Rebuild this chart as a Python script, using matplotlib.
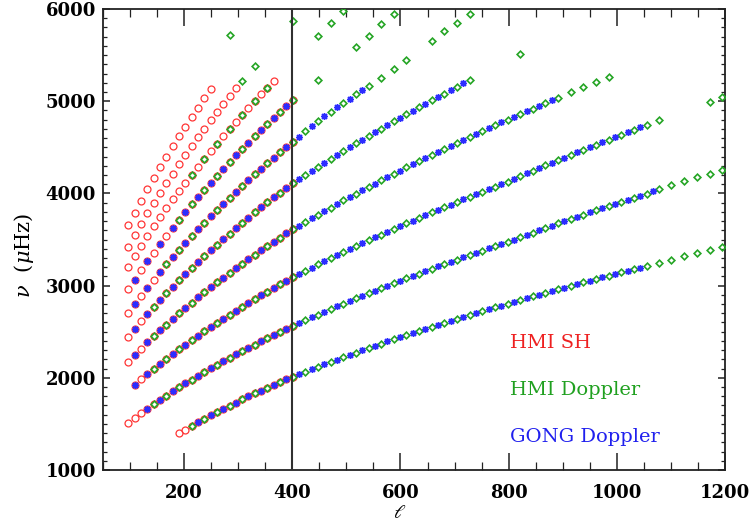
import matplotlib
matplotlib.use("Agg")
import matplotlib.pyplot as plt
from matplotlib.ticker import MultipleLocator

plt.rcParams['font.family'] = ['DejaVu Serif']
plt.rcParams['mathtext.fontset'] = 'dejavuserif'

# common degree grid (index k = 0..94)
ELL = [97, 109, 120, 132, 144, 155, 167, 179, 190, 202,
       214, 225, 237, 249, 261, 272, 284, 296, 307, 319,
       331, 342, 354, 366, 377, 389, 401, 412, 424, 436,
       447, 459, 471, 482, 494, 506, 517, 529, 541, 553,
       564, 576, 588, 599, 611, 623, 634, 646, 658, 669,
       681, 693, 704, 716, 728, 739, 751, 763, 774, 786,
       798, 809, 821, 833, 845, 856, 868, 880, 891, 903,
       915, 926, 938, 950, 961, 973, 985, 996, 1008, 1020,
       1031, 1043, 1055, 1066, 1078, 1090, 1101, 1113, 1125, 1137,
       1148, 1160, 1172, 1183, 1195]

# ridge frequencies (muHz), each list starts at FIRST_K of that ridge
nu_r1 = [1397, 1438, 1478, 1517, 1555, 1592, 1628, 1664, 1698, 1732,
         1765, 1798, 1830, 1862, 1893, 1923, 1953, 1983, 2012,
         2040, 2067, 2094, 2120, 2147, 2173, 2198, 2224, 2249, 2274,
         2298, 2322, 2346, 2370, 2394, 2417, 2440, 2463, 2486, 2508,
         2530, 2552, 2574, 2596, 2617, 2639, 2660, 2681, 2702, 2722,
         2743, 2763, 2783, 2803, 2823, 2843, 2863, 2882, 2902, 2921,
         2940, 2959, 2978, 2997, 3015, 3034, 3052, 3071, 3089, 3107,
         3125, 3143, 3161, 3178, 3196, 3213, 3231, 3248, 3265, 3282,
         3299, 3316, 3333, 3350, 3367, 3383, 3400, 3416]
nu_r2 = [1508, 1562, 1614, 1664, 1713, 1760, 1807, 1852, 1896, 1939,
         1981, 2022, 2062, 2102, 2141, 2179, 2217, 2254, 2290, 2326,
         2361, 2396, 2430, 2464, 2497, 2530, 2562,
         2593, 2624, 2655, 2685, 2715, 2745, 2774, 2804, 2832, 2861,
         2889, 2917, 2944, 2972, 2999, 3026, 3052, 3079, 3105, 3131,
         3157, 3182, 3208, 3233, 3258, 3283, 3307, 3332, 3356, 3380,
         3404, 3428, 3451, 3474, 3500, 3525, 3550, 3575, 3600, 3625,
         3649, 3674, 3698, 3722, 3746, 3769, 3793, 3816, 3840, 3863,
         3886, 3908, 3931, 3954, 3976, 3998, 4021, 4043, 4065, 4086,
         4108, 4130, 4151, 4173, 4194, 4215, 4236, 4257]
nu_r3 = [1860, 1922, 1982, 2040, 2097, 2152, 2205, 2258, 2309, 2359,
         2408, 2457, 2504, 2550, 2596, 2640, 2684, 2728, 2770, 2812,
         2854, 2894, 2935, 2974, 3013, 3052, 3090,
         3125, 3160, 3195, 3229, 3263, 3297, 3330, 3363, 3395, 3428,
         3460, 3491, 3523, 3554, 3584, 3615, 3645, 3675, 3705, 3735,
         3764, 3793, 3822, 3851, 3879, 3907, 3935, 3963, 3991, 4018,
         4046, 4073, 4100, 4126, 4156, 4186, 4216, 4245, 4274, 4303,
         4332, 4360, 4389, 4417, 4445, 4473, 4500, 4528, 4555, 4582,
         4609, 4636, 4663, 4689, 4715, 4742, 4768, 4794]
nu_r4 = [2175, 2247, 2317, 2385, 2451, 2515, 2578, 2640, 2699, 2758,
         2815, 2871, 2927, 2981, 3034, 3086, 3137, 3188, 3238, 3287,
         3335, 3382, 3429, 3476, 3521, 3566, 3611,
         3651, 3691, 3731, 3770, 3809, 3847, 3885, 3923, 3960, 3997,
         4034, 4070, 4106, 4142, 4177, 4212, 4247, 4281, 4316, 4350,
         4383, 4417, 4450, 4483, 4515, 4548, 4580, 4612, 4644, 4675,
         4707, 4738, 4769, 4800, 4830, 4860, 4891, 4920, 4950, 4980,
         5009, 5039, 5068, 5097, 5125, 5154, 5182, 5211, 5239, 5267]
nu_r5 = [2446, 2530, 2612, 2691, 2768, 2843, 2916, 2987, 3057, 3125,
         3191, 3257, 3320, 3383, 3445, 3505, 3565, 3623, 3681, 3737,
         3793, 3848, 3902, 3956, 4008, 4061, 4112,
         4157, 4201, 4245, 4289, 4332, 4375, 4417, 4459, 4501, 4542,
         4583, 4623, 4663, 4703, 4742, 4781, 4820, 4858, 4897, 4934,
         4972, 5009, 5046, 5083, 5119, 5156, 5192, 5227]
nu_r6 = [2705, 2800, 2891, 2979, 3065, 3148, 3230, 3309, 3386, 3462,
         3536, 3609, 3680, 3750, 3818, 3886, 3952, 4017, 4081, 4144,
         4206, 4267, 4328, 4387, 4446, 4504, 4561,
         4617, 4673, 4728, 4783, 4837, 4885, 4933, 4980, 5027, 5073,
         5118, 5164, 5208, 5255, 5301, 5347, 5394, 5442, 5495, 5548,
         5602, 5653, 5705, 5756, 5805, 5852, 5900, 5943]
nu_r7 = [2960, 3065, 3166, 3264, 3359, 3451, 3541, 3629, 3715, 3798,
         3880, 3961, 4039, 4117, 4192, 4267, 4340, 4412, 4483, 4552,
         4621, 4689, 4755, 4821, 4886, 4950, 5013]
nu_r8 = [3205, 3320, 3431, 3538, 3642, 3744, 3842, 3939, 4030, 4115,
         4195, 4285, 4372, 4455, 4538, 4618, 4697, 4776, 4853, 4929,
         5004, 5076, 5146, 5215]
nu_r9 = [3422, 3546, 3666, 3782, 3895, 4004, 4111, 4215, 4316, 4415,
         4512, 4607, 4700, 4791, 4880, 4968, 5055, 5140, 5223, 5305, 5386]
nu_r10 = [3657, 3790, 3919, 4044, 4166, 4283, 4398, 4510, 4619, 4725,
          4829, 4931, 5031, 5129]

RIDGES = [nu_r1, nu_r2, nu_r3, nu_r4, nu_r5, nu_r6, nu_r7, nu_r8, nu_r9, nu_r10]
FIRST_K = [8, 0, 0, 0, 0, 0, 0, 0, 0, 0]

# which grid indices each data set covers, per ridge (first k, last k)
SH_RANGE = [[(8, 26)], [(0, 26)], [(1, 26)], [(0, 26)], [(0, 26)],
            [(0, 26)], [(0, 26)], [(0, 23)], [(0, 17)], [(0, 13)]]
DOP_RANGE = [[(10, 94)], [(4, 94)], [(4, 84)], [(4, 76)], [(4, 54)],
             [(6, 44), (48, 54)], [(8, 26)], [(10, 22)], [(18, 20)], []]
GONG_RANGE = [[(11, 81)], [(3, 83)], [(1, 81)], [(1, 67)], [(1, 53)],
              [(1, 37)], [(1, 25)], [], [], []]

# isolated HMI Doppler points on the upper ridges
dop_extra_ell = [821, 1172, 1195, 447, 517, 541, 564, 588, 447, 471, 494, 401, 284]
dop_extra_nu = [5515, 4996, 5046, 5235, 5585, 5712, 5836, 5950, 5712, 5850, 5980, 5875, 5720]


def collect(ranges, step):
    ell, nu = [], []
    for i, segs in enumerate(ranges):
        for k0, k1 in segs:
            for k in range(k0, k1 + 1, step):
                ell.append(ELL[k])
                nu.append(RIDGES[i][k - FIRST_K[i]])
    return ell, nu


sh_ell, sh_nu = collect(SH_RANGE, 1)
dop_ell, dop_nu = collect(DOP_RANGE, 2)
dop_ell += dop_extra_ell
dop_nu += dop_extra_nu
gong_ell, gong_nu = collect(GONG_RANGE, 2)

fig = plt.figure(figsize=(7.54, 5.26), dpi=100)
ax = fig.add_axes([103 / 754, 56 / 526, 622 / 754, 461 / 526])

ax.plot(sh_ell, sh_nu, ls='none', marker='o', ms=5.0, mfc='none',
        mec='#ff3535', mew=0.9, zorder=2)
ax.plot(dop_ell, dop_nu, ls='none', marker='D', ms=3.4, mfc='none',
        mec='#25a525', mew=1.2, zorder=3)
ax.plot(gong_ell, gong_nu, ls='none', marker=(8, 2, 0), ms=5.0,
        mec='#2d2dff', mew=1.0, zorder=4)

ax.axvline(400, color='#303030', lw=1.5, zorder=5)

ax.set_xlim(50, 1200)
ax.set_ylim(1000, 6000)
ax.xaxis.set_major_locator(MultipleLocator(200))
ax.xaxis.set_minor_locator(MultipleLocator(50))
ax.yaxis.set_major_locator(MultipleLocator(1000))
ax.yaxis.set_minor_locator(MultipleLocator(100))

ax.tick_params(which='both', direction='in', top=True, right=True,
               color='#222222')
ax.tick_params(axis='x', which='major', length=12, width=1.1, pad=10)
ax.tick_params(axis='x', which='minor', length=6, width=0.9)
ax.tick_params(axis='y', which='major', length=5, width=1.1, pad=5)
ax.tick_params(axis='y', which='minor', length=3, width=0.9)
for lab in ax.get_xticklabels() + ax.get_yticklabels():
    lab.set_fontsize(13)
    lab.set_fontweight('bold')
for sp in ax.spines.values():
    sp.set_linewidth(1.3)
    sp.set_color('#222222')

ax.set_xlabel(r'$\ell$', fontsize=14)
ax.xaxis.set_label_coords(0.4775, -0.0745)
ax.set_ylabel(r'$\nu$  ($\mu$Hz)', fontsize=15)
ax.yaxis.set_label_coords(-0.108, 0.465)

ax.text(0.654, 0.2755, 'HMI SH', color='#ee2020', fontsize=14,
        transform=ax.transAxes, va='center', ha='left')
ax.text(0.654, 0.1735, 'HMI Doppler', color='#20a020', fontsize=14,
        transform=ax.transAxes, va='center', ha='left')
ax.text(0.654, 0.0716, 'GONG Doppler', color='#2020ee', fontsize=14,
        transform=ax.transAxes, va='center', ha='left')

fig.savefig('out.png', dpi=100)
